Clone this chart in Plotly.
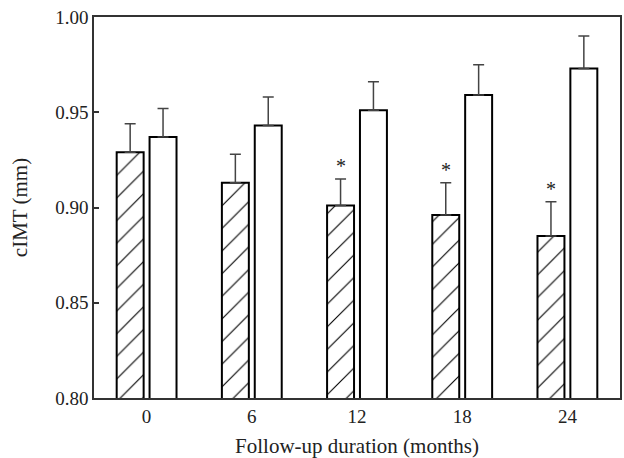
import plotly.graph_objects as go

months = ["0", "6", "12", "18", "24"]
treated = [0.929, 0.913, 0.901, 0.896, 0.885]
treated_err = [0.015, 0.015, 0.014, 0.017, 0.018]
control = [0.937, 0.943, 0.951, 0.959, 0.973]
control_err = [0.015, 0.015, 0.015, 0.016, 0.017]
significant = [False, False, True, True, True]
y_ticks = [0.80, 0.85, 0.90, 0.95, 1.00]

FONT = "Liberation Serif"
LINE = "#333333"

fig = go.Figure()
fig.add_trace(go.Bar(
    x=months, y=treated, name="Treated",
    marker=dict(color="white", line=dict(color="black", width=2),
                pattern=dict(shape="/", fgcolor="black", fgopacity=1, bgcolor="white",
                             size=16, solidity=0.07)),
    error_y=dict(type="data", array=treated_err, arrayminus=[0]*len(treated_err), symmetric=False,
                 color="#444444", thickness=1.5, width=5.5),
))
fig.add_trace(go.Bar(
    x=months, y=control, name="Control",
    marker=dict(color="white", line=dict(color="black", width=2)),
    error_y=dict(type="data", array=control_err, arrayminus=[0]*len(control_err), symmetric=False,
                 color="#444444", thickness=1.5, width=5.5),
))

for i, (v, e, s) in enumerate(zip(treated, treated_err, significant)):
    if s:
        fig.add_annotation(x=i, y=v + e, xref="x", yref="y", text="*", showarrow=False,
                           xshift=-16.5, yshift=0, yanchor="bottom",
                           font=dict(family=FONT, size=20, color="#222222"))

fig.update_layout(
    width=624, height=458,
    margin=dict(l=94, r=2, t=17, b=60),
    paper_bgcolor="white", plot_bgcolor="white",
    barmode="group", bargap=0.375, bargroupgap=0.18,
    showlegend=False,
    font=dict(family=FONT, size=19, color="#222222"),
)
fig.update_xaxes(
    type="category", range=[-0.5, 4.5],
    showline=True, linecolor=LINE, linewidth=1.5, mirror=True,
    ticks="", showgrid=False,
    title=dict(text="Follow-up duration (months)", font=dict(size=21), standoff=15),
    tickfont=dict(size=19),
)
fig.update_yaxes(
    range=[0.80, 1.00], tickvals=y_ticks, ticktext=[f"{t:.2f}" for t in y_ticks],
    showline=True, linecolor=LINE, linewidth=1.5, mirror=True,
    ticks="inside", ticklen=5, tickcolor=LINE, tickwidth=1.5, showgrid=False, zeroline=False,
    title=dict(text="cIMT (mm)", font=dict(size=21), standoff=22),
    tickfont=dict(size=19),
)

fig.write_html("out.html")
